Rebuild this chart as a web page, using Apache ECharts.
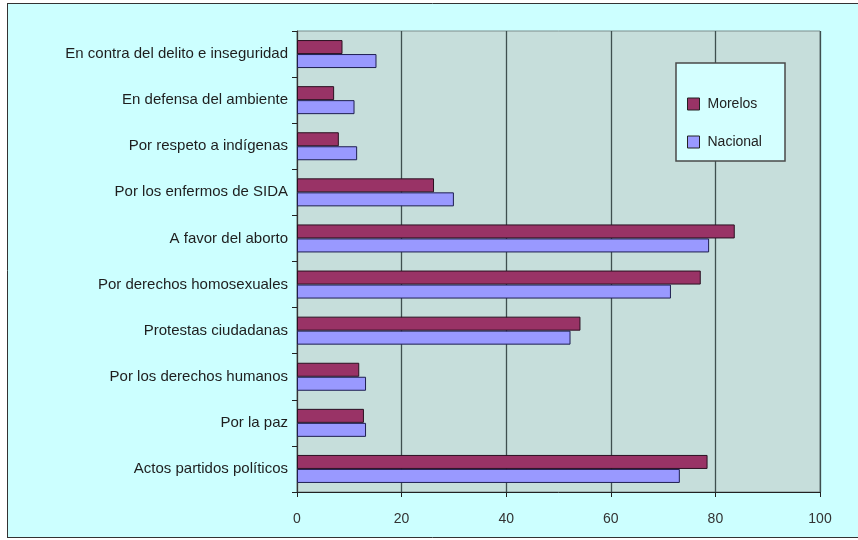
<!DOCTYPE html>
<html>
<head>
<meta charset="utf-8">
<style>
  html, body { margin: 0; padding: 0; background: #ffffff; }
  #chart { width: 858px; height: 540px; }
</style>
<script src="https://cdn.jsdelivr.net/npm/echarts@6/dist/echarts.min.js"></script>
</head>
<body>
<div id="chart"></div>
<script>
// Motivos de participación en manifestaciones (%), Morelos vs. Nacional
const categories = [
  'En contra del delito e inseguridad',
  'En defensa del ambiente',
  'Por respeto a indígenas',
  'Por los enfermos de SIDA',
  'A favor del aborto',
  'Por derechos homosexuales',
  'Protestas ciudadanas',
  'Por los derechos humanos',
  'Por la paz',
  'Actos partidos políticos'
];
const seriesNames = ['Morelos', 'Nacional'];
const morelos  = [8.7, 7.1, 8.0, 26.2, 83.7, 77.2, 54.2, 11.9, 12.8, 78.5];
const nacional = [15.2, 11.0, 11.5, 30.0, 78.8, 71.5, 52.3, 13.2, 13.2, 73.2];
const axisMin = 0, axisMax = 100, axisStep = 20;

const FONT = '"Liberation Sans", Arial, sans-serif';
const chart = echarts.init(document.getElementById('chart'), null, { renderer: 'canvas' });

chart.setOption({
  backgroundColor: '#ccffff',
  animation: false,
  textStyle: { fontFamily: FONT },
  grid: {
    left: 297, top: 31, right: 38, bottom: 48,
    show: true,
    backgroundColor: '#c6dedb',
    borderColor: '#7d8c8c',
    borderWidth: 1
  },
  legend: {
    data: seriesNames,
    orient: 'vertical',
    left: 687, top: 97,
    padding: 0,
    itemGap: 24,
    itemWidth: 12, itemHeight: 12,
    icon: 'rect',
    itemStyle: { borderColor: '#222222', borderWidth: 1 },
    textStyle: { fontFamily: FONT, fontSize: 14, lineHeight: 14, color: '#222222', padding: [0, 0, 0, 3] },
    z: 6
  },
  xAxis: {
    type: 'value',
    min: axisMin, max: axisMax, interval: axisStep,
    axisLine: { show: true, lineStyle: { color: '#222222', width: 1 } },
    axisTick: { show: true, inside: false, length: 5, lineStyle: { color: '#222222' } },
    axisLabel: { color: '#333333', fontSize: 14, fontFamily: FONT, margin: 20 },
    splitLine: { show: true, lineStyle: { color: '#3f4f4f', width: 1.3 } }
  },
  yAxis: {
    type: 'category',
    data: categories,
    inverse: true,
    axisLine: { show: true, lineStyle: { color: '#333333', width: 1 } },
    axisTick: { show: true, length: 5, lineStyle: { color: '#222222' } },
    axisLabel: { color: '#1e1e1e', fontSize: 15, fontFamily: FONT, margin: 9 },
    splitLine: { show: false }
  },
  series: [
    {
      name: seriesNames[0], type: 'bar', data: morelos,
      barWidth: 14, barGap: '0%',
      itemStyle: { color: '#993366', borderColor: '#2a1020', borderWidth: 1 }
    },
    {
      name: seriesNames[1], type: 'bar', data: nacional,
      barWidth: 14, barGap: '0%',
      itemStyle: { color: '#9999ff', borderColor: '#1e1e50', borderWidth: 1 }
    }
  ],
  graphic: [
    // legend frame
    { type: 'rect', z: 5, shape: { x: 676, y: 63, width: 109, height: 98 },
      style: { fill: '#d4ffff', stroke: '#4a4a4a', lineWidth: 1.5 } },
    // page margin and outer frame
    { type: 'rect', z: 100, shape: { x: 0, y: 0, width: 7, height: 540 }, style: { fill: '#ffffff' } },
    { type: 'rect', z: 100, shape: { x: 0, y: 0, width: 858, height: 3 }, style: { fill: '#ffffff' } },
    { type: 'rect', z: 100, shape: { x: 0, y: 538, width: 858, height: 2 }, style: { fill: '#ffffff' } },
    { type: 'line', z: 101, shape: { x1: 7.5, y1: 3, x2: 7.5, y2: 538 }, style: { stroke: '#333333', lineWidth: 1 } },
    { type: 'line', z: 101, shape: { x1: 7, y1: 3.5, x2: 858, y2: 3.5 }, style: { stroke: '#333333', lineWidth: 1 } },
    { type: 'line', z: 101, shape: { x1: 7, y1: 537.5, x2: 858, y2: 537.5 }, style: { stroke: '#333333', lineWidth: 1 } }
  ]
});
</script>
</body>
</html>
